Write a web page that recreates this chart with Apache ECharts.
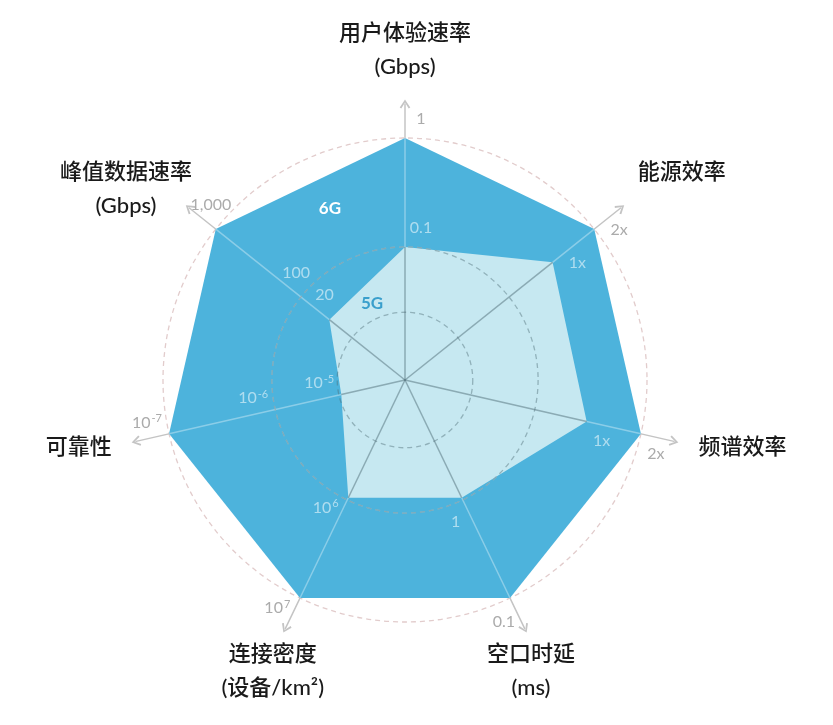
<!DOCTYPE html>
<html>
<head>
<meta charset="utf-8">
<script src="https://cdn.jsdelivr.net/npm/echarts@6/dist/echarts.min.js"></script>
<style>
html,body{margin:0;padding:0;background:#fff;}
#chart{width:833px;height:725px;}
</style>
</head>
<body>
<div id="chart"></div>
<script>
// ---- data ----
const categories = ['用户体验速率\n(Gbps)', '峰值数据速率\n(Gbps)', '可靠性', '连接密度\n(设备/km²)', '空口时延\n(ms)', '频谱效率', '能源效率'];
const values6G = [100, 100, 100, 100, 100, 100, 100];
const values5G = [55, 40, 27, 54, 54, 77, 78];
const tickLabels = [['1', '0.1'], ['1,000', '100', '20'], ['10⁻⁷', '10⁻⁶', '10⁻⁵'], ['10⁷', '10⁶'], ['0.1', '1'], ['2x', '1x'], ['2x', '1x']];
const tickValues = [[100, 55], [100, 55, 40], [100, 55, 27], [100, 54], [100, 54], [100, 77], [100, 78]];
const ringValues = [28, 55, 100];
const seriesNames = ['6G', '5G'];

// ---- layout ----
const CX = 405, CY = 380, R100 = 242;
const AXIS_MAX = 114, POLAR_MAX = 150;
const nameDist = [136.4, 139.7, 137.6, 132.2, 131, 142.1, 143];
const nameTurn = [0, 4.2, -1.3, 1.3, -2.3, 1.7, -1.7];
const tagPos = [[77.5, 23.6], [34.6, 23.2]];

const N = categories.length;
const STEP = 360 / N;
const ang = i => i * STEP;
const C6 = '#4db3dc', C5 = '#c6e8f1';
const LIGHT_LINE = 'rgba(255,255,255,0.35)';
const GRAY_LINE = 'rgba(80,110,120,0.5)';
const HIDDEN = { color: 'rgba(0,0,0,0)', opacity: 1 };
const SUP = { '⁻': '-', '⁰': '0', '¹': '1', '²': '2', '³': '3', '⁴': '4', '⁵': '5', '⁶': '6', '⁷': '7', '⁸': '8', '⁹': '9' };
const toRich = t => t.replace(/[⁻⁰¹²³⁴⁵⁶⁷⁸⁹]+/g, m => '{s|' + m.split('').map(c => SUP[c]).join('') + '}');

const polarDefs = [
  { r: POLAR_MAX, max: POLAR_MAX, line: null, z: 0 },
  { r: ringValues[2], max: 100, line: '#e2cccc', z: 1 },
  { r: ringValues[1], max: 100, line: 'rgba(255,255,255,0.5)', z: 3 },
  { r: ringValues[1], max: 100, line: 'rgba(80,110,120,0.45)', z: 5 },
  { r: ringValues[0], max: 100, line: 'rgba(80,110,120,0.45)', z: 5 }
];

const polar = polarDefs.map(p => ({ center: [CX, CY], radius: R100 * p.r / 100 }));
const angleAxis = polarDefs.map((p, k) => ({
  polarIndex: k, type: 'value', min: 0, max: 360, startAngle: 90, clockwise: false,
  show: !!p.line, z: p.z, silent: true,
  axisLine: { show: !!p.line, lineStyle: { color: p.line || '#000', width: 1.3, type: [5, 4] } },
  axisTick: { show: false }, axisLabel: { show: false }, splitLine: { show: false }
}));
const radiusAxis = polarDefs.map((p, k) => ({
  polarIndex: k, type: 'value', min: 0, max: p.max, show: false,
  axisLine: { show: false }, axisTick: { show: false }, axisLabel: { show: false }, splitLine: { show: false }
}));

const series = [];
series.push({
  type: 'radar', radarIndex: 0, z: 2, symbol: 'none', silent: true,
  lineStyle: { width: 0, opacity: 0 }, areaStyle: { color: C6, opacity: 1 },
  data: [{ name: seriesNames[0], value: values6G }]
});
series.push({
  type: 'radar', radarIndex: 0, z: 4, symbol: 'none', silent: true,
  lineStyle: { width: 0, opacity: 0 }, areaStyle: { color: C5, opacity: 1 },
  data: [{ name: seriesNames[1], value: values5G }]
});
for (let i = 0; i < N; i++) {
  series.push({
    type: 'line', coordinateSystem: 'polar', polarIndex: 0, z: 3, symbol: 'none', silent: true,
    lineStyle: { color: LIGHT_LINE, width: 1.5 },
    data: [[values5G[i], ang(i)], [values6G[i], ang(i)]]
  });
  series.push({
    type: 'line', coordinateSystem: 'polar', polarIndex: 0, z: 5, symbol: 'none', silent: true,
    lineStyle: { color: GRAY_LINE, width: 1.5 },
    data: [[0, ang(i)], [values5G[i], ang(i)]]
  });
}

// tick labels
const tickItems = [];
tickLabels.forEach((labels, i) => {
  const th = (90 + ang(i)) * Math.PI / 180;
  const al = [Math.cos(th), -Math.sin(th)], pp = [Math.sin(th), Math.cos(th)];
  labels.forEach((t, j) => {
    const v = tickValues[i][j];
    const col = v >= 100 ? '#ababab' : 'rgba(255,255,255,0.55)';
    tickItems.push({
      name: t, value: [v, ang(i)],
      label: {
        formatter: toRich(t),
        offset: [al[0] * 19 + pp[0] * 16, al[1] * 19 + pp[1] * 16], color: col,
        rich: { s: { fontSize: 11, color: col, padding: [0, 0, 8, 1], fontFamily: 'Lato, "Noto Sans", sans-serif' } }
      }
    });
  });
});
series.push({
  type: 'scatter', coordinateSystem: 'polar', polarIndex: 0, z: 6, silent: true,
  symbolSize: 1, itemStyle: HIDDEN,
  label: { show: true, opacity: 1, position: 'inside', fontFamily: 'Lato, "Noto Sans", sans-serif', fontSize: 16 },
  data: tickItems
});
// axis names
series.push({
  type: 'scatter', coordinateSystem: 'polar', polarIndex: 0, z: 6, silent: true,
  symbolSize: 1, itemStyle: HIDDEN,
  label: { show: true, opacity: 1, position: 'inside', formatter: '{b}', fontFamily: 'Lato, "Noto Sans CJK SC", sans-serif', fontSize: 22, fontWeight: 500, lineHeight: 34, color: '#1a1a1a', align: 'center', verticalAlign: 'middle' },
  data: categories.map((c, i) => ({ name: c, value: [nameDist[i], ang(i) + nameTurn[i]] }))
});
// series tags
series.push({
  type: 'scatter', coordinateSystem: 'polar', polarIndex: 0, z: 6, silent: true,
  symbolSize: 1, itemStyle: HIDDEN,
  label: { show: true, opacity: 1, position: 'inside', formatter: '{b}', fontFamily: 'Lato, "Noto Sans", sans-serif', fontSize: 17, fontWeight: 'bold' },
  data: seriesNames.map((s, k) => ({ name: s, value: tagPos[k], label: { color: k === 0 ? '#ffffff' : '#3a9fcc' } }))
});

const option = {
  animation: false,
  backgroundColor: '#ffffff',
  polar: polar,
  angleAxis: angleAxis,
  radiusAxis: radiusAxis,
  radar: {
    center: [CX, CY], radius: R100 * AXIS_MAX / 100, startAngle: 90, z: 1, silent: true,
    indicator: categories.map(n => ({ name: n, min: 0, max: AXIS_MAX })),
    axisName: { show: false },
    splitLine: { show: false }, splitArea: { show: false },
    axisLine: {
      lineStyle: { color: '#c4c4c4', width: 1.5 },
      symbol: ['none', 'path://M0,9 L6,0 L12,9 L10.2,10.2 L6,3.4 L1.8,10.2 Z'],
      symbolSize: [12, 9]
    }
  },
  series: series
};
const chart = echarts.init(document.getElementById('chart'), null, { renderer: 'canvas' });
chart.setOption(option);
</script>
</body>
</html>
